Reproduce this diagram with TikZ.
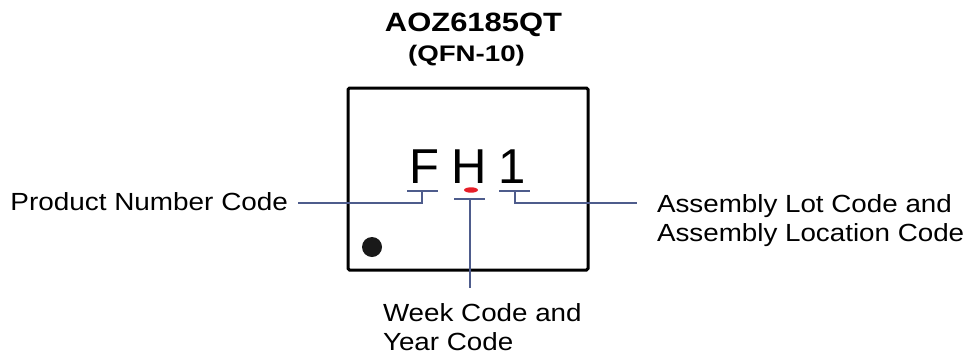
\documentclass[tikz,border=0pt]{standalone}
\usepackage{fontspec}
\setmainfont{Liberation Sans}
\usepackage{graphicx}
\definecolor{lead}{RGB}{78,92,140}
\definecolor{markred}{RGB}{230,30,40}
\definecolor{pinone}{RGB}{25,25,25}
\newcommand{\hstr}[2]{\scalebox{#1}[1]{#2}}
\begin{document}
\begin{tikzpicture}[x=1pt,y=-1pt,
  lbl/.style={inner sep=0pt,outer sep=0pt,font=\fontsize{24.8}{28.7}\selectfont},
  codechar/.style={inner sep=0pt,outer sep=0pt,anchor=base,font=\fontsize{49}{50}\selectfont},
  leadline/.style={draw=lead,line width=1.4pt}]
\useasboundingbox (0,0) rectangle (968,362);
% package outline
\node[draw=black,line width=3pt,minimum width=240pt,minimum height=182pt,inner sep=0pt,rounded corners=1.5pt] (chip) at (468,179) {};
% title
\node[inner sep=0pt,anchor=base,font=\bfseries\fontsize{26.5}{30}\selectfont] (title) at (473.5,31) {\hstr{1.167}{AOZ6185QT}};
\node[inner sep=0pt,anchor=base,font=\bfseries\fontsize{22.5}{26}\selectfont] (pkg) at (466.5,61) {\hstr{1.23}{(QFN-10)}};
% marking
\node[codechar] (cF) at (424.5,183) {F};
\node[codechar] (cH) at (469.5,183) {H};
\node[codechar] (c1) at (512,183) {1};
\fill[markred] (471,190) ellipse (7pt and 2.7pt);
\fill[pinone] (372,247) circle (10pt);
% labels (base anchor of a two-line node is the last line)
\node[lbl,anchor=base east] (pnc) at (288,210) {\hstr{1.125}{Product Number Code}};
\node[lbl,anchor=base west,align=left] (alc) at (657,241) {\hstr{1.12}{Assembly Lot Code and}\\\hstr{1.12}{Assembly Location Code}};
\node[lbl,anchor=base west,align=left] (wyc) at (383,350) {\hstr{1.12}{Week Code and}\\\hstr{1.12}{Year Code}};
% leader bars
\coordinate (fL) at (407,191); \coordinate (fR) at (438,191); \coordinate (fM) at (422,191);
\coordinate (hL) at (454,199); \coordinate (hR) at (485,199); \coordinate (hM) at (470,199);
\coordinate (oL) at (499,191); \coordinate (oR) at (530,191); \coordinate (oM) at (515,191);
\coordinate (pncEnd) at (298,203);
\coordinate (alcEnd) at (637,203);
\coordinate (wycEnd) at (470,288);
\draw[leadline] (fL) -- (fR);
\draw[leadline] (hL) -- (hR);
\draw[leadline] (oL) -- (oR);
\draw[leadline] (fM) |- (pncEnd);
\draw[leadline] (oM) |- (alcEnd);
\draw[leadline] (hM) -- (wycEnd);
\end{tikzpicture}
\end{document}
